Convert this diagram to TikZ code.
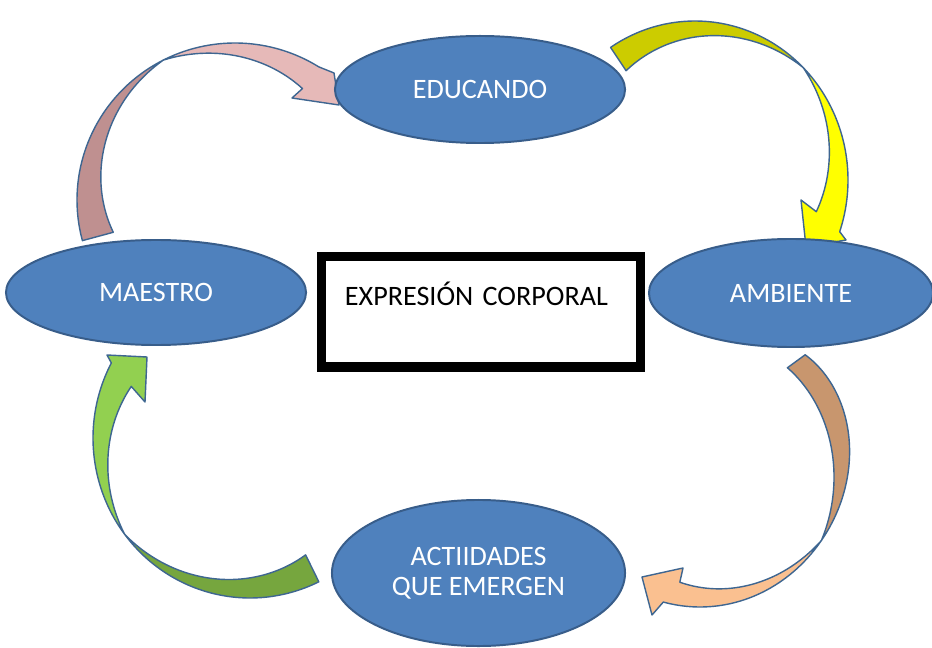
\documentclass[tikz,border=0pt]{standalone}
\usepackage{fontspec}
\setmainfont{Carlito}
\usetikzlibrary{shapes.geometric}

\begin{document}
\begin{tikzpicture}[x=0.025cm,y=-0.025cm,
	elipse/.style={ellipse,draw=bordeazul,fill=azul,line width=1.4pt,text=white,
		font=\fontsize{20}{21}\selectfont,align=center,inner sep=0pt},
	marco/.style={rectangle,draw=black,line width=0.2375cm,align=left,
		font=\fontsize{20}{21}\selectfont},
	flecha/.style={draw=bordeflecha,line width=1pt,line join=round},
	curva/.style={domain=0:1,samples=30,smooth}]
	\definecolor{azul}{HTML}{4F81BD}
	\definecolor{bordeazul}{HTML}{385D8A}
	\definecolor{bordeflecha}{HTML}{3E6691}
	\definecolor{olivo}{HTML}{CCCC00}
	\definecolor{amarillo}{HTML}{FFFF00}
	\definecolor{rosaoscuro}{HTML}{BF9090}
	\definecolor{rosa}{HTML}{E6B9B8}
	\definecolor{verde}{HTML}{92D050}
	\definecolor{verdeoscuro}{HTML}{76A63E}
	\definecolor{cafe}{HTML}{C8966E}
	\definecolor{durazno}{HTML}{FAC090}
	
	\useasboundingbox[fill=white] (0,0) rectangle (932,648);
	
	% arrows: dark tail, then light part with head
	% maestro -> educando
	\filldraw[flecha,fill=rosaoscuro]
		plot[curva] ({235+158*cos(165+78*\x)},{200+157*sin(165+78*\x)})
		-- plot[curva] ({235+(158-32*\x)*cos(243-78*\x)},{200+(157-32*\x)*sin(243-78*\x)}) -- cycle;
	\filldraw[flecha,fill=rosa]
		plot[curva] ({235+158*cos(243+59*\x)},{200+157*sin(243+59*\x)})
		-- (334,73) -- (339,105) -- (292,98)
		-- plot[curva] ({235+(158-27*(1-\x))*cos(301-58*\x)},{200+(157-27*(1-\x))*sin(301-58*\x)}) -- cycle;
	% educando -> ambiente
	\filldraw[flecha,fill=olivo]
		plot[curva] ({695+153*cos(-123.5+78.5*\x)},{180+159*sin(-123.5+78.5*\x)})
		-- plot[curva] ({695+(153-28*\x)*cos(-45-78.5*\x)},{180+(159-28*\x)*sin(-45-78.5*\x)}) -- cycle;
	\filldraw[flecha,fill=amarillo]
		plot[curva] ({695+153*cos(-45+64*\x)},{180+159*sin(-45+64*\x)})
		-- (846,240) -- (806,247) -- (801,200)
		-- plot[curva] ({695+(153-28*(1-\x))*cos(14-59*\x)},{180+(159-28*(1-\x))*sin(14-59*\x)}) -- cycle;
	% ambiente -> actividades
	\filldraw[flecha,fill=cafe]
		plot[curva] ({700+(152-22*(1-\x)^3)*cos(-36+73*\x)},{440+(167-22*(1-\x)^3)*sin(-36+73*\x)})
		-- plot[curva] ({700+(152-44*\x)*cos(37-73*\x)},{440+(167-44*\x)*sin(37-73*\x)}) -- cycle;
	\filldraw[flecha,fill=durazno]
		plot[curva] ({700+152*cos(37+67*\x)},{440+167*sin(37+67*\x)})
		-- (652,615) -- (642,577) -- (683,568)
		-- plot[curva] ({700+(152-23*(1-\x))*cos(99-62*\x)},{440+(167-23*(1-\x))*sin(99-62*\x)}) -- cycle;
	% actividades -> maestro
	\filldraw[flecha,fill=verdeoscuro]
		plot[curva] ({250+157*cos(64+79*\x)},{438+160*sin(64+79*\x)})
		-- plot[curva] ({250+(157-30*\x)*cos(143-79*\x)},{438+(160-30*\x)*sin(143-79*\x)}) -- cycle;
	\filldraw[flecha,fill=verde]
		plot[curva] ({250+157*cos(143+65*\x)},{438+160*sin(143+65*\x)})
		-- (107,355) -- (147,357) -- (145,402)
		-- plot[curva] ({250+(157-28*(1-\x))*cos(203-60*\x)},{438+(160-28*(1-\x))*sin(203-60*\x)}) -- cycle;
	
	% labels
	\node[elipse,minimum width=7.25cm,minimum height=2.675cm] (educando) at (480,89.5) {EDUCANDO};
	\node[elipse,minimum width=7.5cm,minimum height=2.625cm] (maestro) at (156,292.5) {MAESTRO};
	\node[elipse,minimum width=7.1cm,minimum height=2.7cm] (ambiente) at (791,293) {AMBIENTE};
	\node[elipse,minimum width=7.325cm,minimum height=3.65cm] (actividades) at (478.5,573) {ACTIIDADES\\QUE EMERGEN};
	
	\node[marco,text width=6.8cm,inner xsep=0.5875cm,inner ysep=0.786cm,
		text height=0.45cm,text depth=0.74cm] (expresion) at (481,311.75) {EXPRESIÓN CORPORAL};
\end{tikzpicture}
\end{document}
